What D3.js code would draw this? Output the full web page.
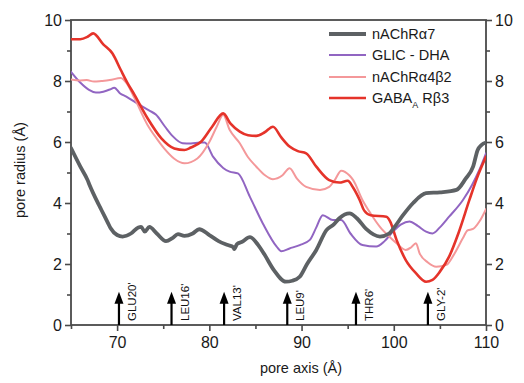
<!DOCTYPE html>
<html><head><meta charset="utf-8">
<script src="https://cdn.jsdelivr.net/npm/d3@7"></script>
<style>
html,body{margin:0;padding:0;background:#fff;}
svg{display:block;font-family:"Liberation Sans",Arial,sans-serif;}
</style></head>
<body>
<svg id="chart" width="524" height="383"></svg>
<script>
// ---- data ----
const seriesNames = ["nAChR\u03b17", "GLIC - DHA", "nAChR\u03b14\u03b22", "GABA_A R\u03b23"];

const a7X = [65,66,66.8,67,68,68.3,69,69.3,70,70.6,71.5,72.3,72.6,73.0,73.5,74.3,75.3,76.0,76.6,77.3,78.2,78.9,80,81,82,82.6,82.7,83.0,83.5,84.4,85.3,86,87,88.3,89,89.8,90.6,91.6,92.7,93.5,94.1,95.2,96,97,98.5,99.5,100,101,102.1,103.5,105,106.8,107.8,108.6,109.1,109.5,110];
const a7R = [5.8,5.2,4.75,4.6,3.95,3.77,3.35,3.17,2.95,2.9,3.0,3.2,3.22,3.06,3.22,3.0,2.75,2.85,2.98,2.92,3.0,3.14,2.95,2.75,2.62,2.55,2.49,2.65,2.72,2.88,2.62,2.3,1.8,1.42,1.45,1.58,2.0,2.46,3.11,3.3,3.5,3.66,3.5,3.15,2.9,3.0,3.18,3.6,4.0,4.32,4.35,4.43,4.8,5.19,5.74,5.9,5.98];

const glicX = [65,66,67,67.7,68.5,69.2,69.7,70.3,71,72,73.5,74.2,75.2,76,77.1,78,79,79.5,80.4,81.5,82.2,83.1,84.4,85.8,87.3,87.8,88.7,89.8,90.9,91.6,92.3,93.4,94.3,95.3,96.6,98.1,99,99.9,100.8,101.7,102.6,103.5,104.2,105,106,107.5,108.5,109.3,110];
const glicR = [8.3,7.95,7.7,7.62,7.65,7.72,7.78,7.6,7.49,7.3,7.03,6.9,6.5,6.2,5.96,5.95,5.98,5.98,5.52,5.15,5.03,4.97,4.2,3.33,2.57,2.42,2.51,2.62,2.79,3.2,3.6,3.44,3.44,3.0,2.62,2.57,2.75,3.06,3.3,3.39,3.25,3.06,3.0,3.2,3.55,4.1,4.6,5.1,5.63];

const a4b2X = [65,66,66.7,67.5,68.3,69.2,70.4,71.1,71.9,73.3,74.2,75.1,76.2,77.3,78.7,80,80.8,81.5,82.2,83.3,84.2,85.1,86,86.9,87.9,88.7,89.5,90.5,92,93,93.6,94.3,95.2,95.6,96.6,97.5,98.5,99.5,100.3,101.3,101.9,102.4,102.8,103.7,104.6,105.7,106.5,107.5,108,108.6,109.3,110];
const a4b2R = [8.05,8.02,8.03,7.98,8.0,8.03,8.1,7.9,7.43,6.56,6.15,5.79,5.45,5.3,5.46,6.0,6.5,6.89,6.4,5.96,5.5,5.19,4.92,4.78,4.9,5.14,4.8,4.53,4.43,4.53,4.75,5.06,4.9,4.75,4.1,3.65,3.22,2.9,2.68,2.46,2.55,2.68,2.35,2.05,1.91,1.97,2.3,2.85,3.1,3.15,3.4,3.8];

const gabaX = [65,66,66.8,67.4,68.5,69.5,70.4,71.1,71.9,73.3,74.8,76.2,77.3,78,79.1,80.3,81.5,82.3,83.3,84.2,85.1,86,86.9,87.8,88.7,89.6,90.5,91.6,93,94.1,95,95.6,96.3,96.8,97.5,99.2,99.6,100.3,101.3,102.4,103.5,104.2,105,106,107,108.2,109,110];
const gabaR = [9.37,9.37,9.45,9.56,9.2,8.9,8.36,7.95,7.54,6.78,6.12,5.79,5.74,5.82,6.01,6.5,6.94,6.6,6.34,6.22,6.2,6.32,6.5,6.15,5.85,5.7,5.63,5.19,4.75,4.67,4.73,4.5,4.1,3.75,3.6,3.55,3.4,2.79,2.13,1.7,1.42,1.48,1.75,2.24,3.0,4.1,4.8,5.52];

const residueLabels = ["GLU20'", "LEU16'", "VAL13'", "LEU9'", "THR6'", "GLY-2'"];
const residuePos = [70.2, 75.9, 81.6, 88.45, 95.9, 103.7];

const xTicks = [70, 80, 90, 100, 110];
const xMinor = [65, 75, 85, 95, 105];
const yTicks = [0, 2, 4, 6, 8, 10];
const yMinor = [1, 3, 5, 7, 9];

// ---- styles ----
const colors = ["#5d6164", "#9165c2", "#f4989a", "#e5332a"];
const widths = [3.8, 2, 2, 2.6];

const svg = d3.select("#chart");
const L = 71, R = 486, T = 20, B = 325;
const x = d3.scaleLinear().domain([65, 110]).range([L, R]);
const y = d3.scaleLinear().domain([0, 10]).range([B, T]);

const axisColor = "#4a4a4a";
const defs = svg.append("defs");
defs.append("clipPath").attr("id","clip").append("rect")
  .attr("x", L).attr("y", T).attr("width", R - L).attr("height", B - T);

// frame
svg.append("rect").attr("x", L).attr("y", T).attr("width", R - L).attr("height", B - T)
  .attr("fill", "none").attr("stroke", axisColor).attr("stroke-width", 1.8);

function styleAxis(g){
  g.select(".domain").remove();
  g.selectAll("line").attr("stroke", axisColor).attr("stroke-width", 1.6);
  g.selectAll("text").attr("fill", "#1a1a1a").attr("font-size", 16);
}

// x axis
svg.append("g").attr("transform", `translate(0,${B})`)
  .call(d3.axisBottom(x).tickValues(xTicks).tickSize(6).tickPadding(6).tickFormat(d3.format("d")))
  .call(styleAxis);
svg.append("g").attr("transform", `translate(0,${B})`)
  .call(d3.axisBottom(x).tickValues(xMinor).tickSize(4).tickFormat(""))
  .call(styleAxis);
// left axis
svg.append("g").attr("transform", `translate(${L},0)`)
  .call(d3.axisLeft(y).tickValues(yTicks).tickSize(6).tickPadding(3).tickFormat(d3.format("d")))
  .call(styleAxis);
svg.append("g").attr("transform", `translate(${L},0)`)
  .call(d3.axisLeft(y).tickValues(yMinor).tickSize(4).tickFormat(""))
  .call(styleAxis);
// right axis
svg.append("g").attr("transform", `translate(${R},0)`)
  .call(d3.axisRight(y).tickValues(yTicks).tickSize(6).tickPadding(3).tickFormat(d3.format("d")))
  .call(styleAxis);
svg.append("g").attr("transform", `translate(${R},0)`)
  .call(d3.axisRight(y).tickValues(yMinor).tickSize(4).tickFormat(""))
  .call(styleAxis);

// axis titles
svg.append("text").attr("x", 301).attr("y", 373).attr("text-anchor", "middle")
  .attr("font-size", 14.5).attr("fill", "#1a1a1a").text("pore axis (\u00c5)");
svg.append("text").attr("transform", "translate(25,170) rotate(-90)").attr("text-anchor", "middle")
  .attr("font-size", 14.5).attr("fill", "#1a1a1a").text("pore radius (\u00c5)");

// lines
const data = [[a7X, a7R], [glicX, glicR], [a4b2X, a4b2R], [gabaX, gabaR]];
const line = d3.line().x(d => x(d[0])).y(d => y(d[1])).curve(d3.curveMonotoneX);
const plot = svg.append("g").attr("clip-path", "url(#clip)");
// draw order: purple, pink, red, gray on top
[1, 2, 3, 0].forEach(i => {
  const pts = data[i][0].map((v, k) => [v, data[i][1][k]]);
  plot.append("path").datum(pts).attr("d", line)
    .attr("fill", "none").attr("stroke", colors[i]).attr("stroke-width", widths[i])
    .attr("stroke-linejoin", "round").attr("stroke-linecap", "round");
});

// residue arrows
const arrowTop = 1.09;
residuePos.forEach((p, i) => {
  const ax = x(p);
  const yb = y(0), yt = y(arrowTop);
  svg.append("line").attr("x1", ax).attr("x2", ax).attr("y1", yb).attr("y2", yt + 8)
    .attr("stroke", "#000").attr("stroke-width", 2.2);
  svg.append("path").attr("d", `M${ax},${yt} L${ax - 4.5},${yt + 12} L${ax + 4.5},${yt + 12} Z`)
    .attr("fill", "#000");
  svg.append("text").attr("transform", `translate(${ax + 17},${yb - 4}) rotate(-90)`)
    .attr("font-size", 11.5).attr("fill", "#111").text(residueLabels[i]);
});

// legend
const legY = [34, 55, 77, 98];
seriesNames.forEach((name, i) => {
  svg.append("line").attr("x1", 329).attr("x2", 366).attr("y1", legY[i]).attr("y2", legY[i])
    .attr("stroke", colors[i]).attr("stroke-width", widths[i]);
  const t = svg.append("text").attr("x", 372).attr("y", legY[i] + 5)
    .attr("font-size", 14.5).attr("fill", "#1a1a1a");
  if (name.startsWith("GABA_A")) {
    t.append("tspan").text("GABA");
    t.append("tspan").attr("font-size", 9).attr("dy", 5).text("A");
    t.append("tspan").attr("dy", -5).text(" " + name.slice(7));
  } else {
    t.text(name);
  }
});
</script>
</body></html>
